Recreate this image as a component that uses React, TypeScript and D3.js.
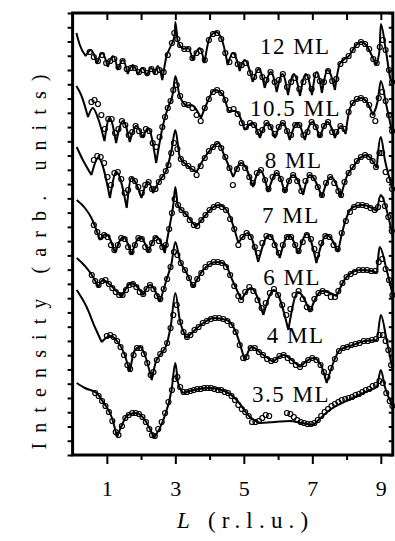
import React, {useEffect, useRef} from 'react';
import * as d3 from 'd3';

// Film thickness of each curve, top to bottom
const labels = ['12 ML', '10.5 ML', '8 ML', '7 ML', '6 ML', '4 ML', '3.5 ML'];
// left end of each label baseline, in [L, intensity]
const labelAt = [[5.47, 40.1], [5.18, 33.95], [5.61, 28.7], [5.53, 23.2], [5.57, 17.0], [5.67, 11.2], [5.24, 5.35]];

const xMajor = [1, 3, 5, 7, 9];
const xMinor = [2, 4, 6, 8];
const yTickCount = 31;

// fitted curves, [L, log intensity + offset]
const fit12 = [[0.11,42.2],[0.21,41.0],[0.38,39.9],[0.54,40.5],[0.71,39.1],[0.86,40.2],[1.03,38.8],[1.18,39.9],[1.32,38.5],[1.47,39.5],[1.61,38.1],[1.76,39.0],[1.91,38.0],[2.03,38.7],[2.17,37.9],[2.29,38.7],[2.39,38.1],[2.49,38.9],[2.62,37.5],[2.73,39.7],[2.88,41.0],[2.98,42.0],[3.0,43.3],[3.07,41.4],[3.22,40.6],[3.37,40.7],[3.51,39.5],[3.71,40.7],[3.85,39.2],[4.0,41.7],[4.19,42.3],[4.39,41.2],[4.53,39.0],[4.68,40.2],[4.88,38.4],[5.02,39.5],[5.26,37.3],[5.44,38.6],[5.61,36.7],[5.79,38.3],[5.96,36.3],[6.13,38.1],[6.29,36.0],[6.46,38.1],[6.64,35.9],[6.81,38.1],[6.99,36.0],[7.13,38.3],[7.28,36.2],[7.45,38.5],[7.66,36.5],[7.80,39.1],[8.09,40.0],[8.28,41.0],[8.43,41.3],[8.57,41.0],[8.77,39.7],[8.86,39.0],[8.96,40.4],[9.0,43.1],[9.15,40.4],[9.29,37.5],[9.35,37.2]];
const fit105 = [[0.11,36.9],[0.25,36.0],[0.45,33.8],[0.59,34.7],[0.75,33.6],[0.93,31.4],[1.08,33.7],[1.27,31.2],[1.47,33.4],[1.67,31.3],[1.86,32.9],[2.05,31.7],[2.20,32.7],[2.44,29.2],[2.64,33.0],[2.78,34.7],[2.93,36.2],[3.0,37.9],[3.12,36.0],[3.32,34.9],[3.46,35.0],[3.75,33.7],[3.90,35.0],[4.15,36.5],[4.39,36.0],[4.58,34.4],[4.75,34.4],[5.03,32.5],[5.24,33.2],[5.47,31.7],[5.69,33.2],[5.91,31.7],[6.13,33.2],[6.34,31.5],[6.56,33.2],[6.78,31.5],[7.0,33.3],[7.22,31.7],[7.44,33.3],[7.66,31.7],[7.84,32.9],[7.97,32.1],[8.10,34.7],[8.28,35.5],[8.43,35.7],[8.57,35.4],[8.77,34.0],[8.91,35.4],[9.0,37.4],[9.16,35.0],[9.35,32.0]];
const fit8 = [[0.12,30.8],[0.27,29.7],[0.55,28.0],[0.75,29.7],[1.09,25.7],[1.28,28.3],[1.58,24.7],[1.72,27.7],[2.01,25.7],[2.21,27.3],[2.35,26.2],[2.55,27.5],[2.74,28.5],[2.89,30.5],[3.0,32.5],[3.13,29.8],[3.33,29.0],[3.62,28.3],[3.81,29.5],[4.10,30.8],[4.27,31.2],[4.40,30.2],[4.69,27.8],[4.93,29.2],[5.27,26.8],[5.47,28.5],[5.71,26.3],[5.96,28.2],[6.20,26.2],[6.44,28.0],[6.73,26.0],[6.93,28.0],[7.28,25.8],[7.54,27.8],[7.83,25.8],[8.0,27.8],[8.19,28.8],[8.39,29.7],[8.58,30.0],[8.74,29.5],[8.88,28.7],[9.0,31.8],[9.12,29.5],[9.36,26.5]];
const fit7 = [[0.12,25.5],[0.36,24.7],[0.55,23.7],[0.80,21.5],[0.97,22.1],[1.24,20.2],[1.48,21.8],[1.72,20.0],[1.97,21.8],[2.21,20.3],[2.45,21.8],[2.69,20.2],[2.84,23.0],[2.94,25.0],[3.0,26.8],[3.07,25.0],[3.28,24.2],[3.60,22.8],[3.86,23.9],[4.07,24.7],[4.27,25.0],[4.53,24.3],[4.84,21.2],[5.12,22.2],[5.42,19.3],[5.73,22.0],[6.05,19.7],[6.31,22.0],[6.59,20.1],[6.84,22.1],[7.12,19.2],[7.42,22.0],[7.75,20.3],[7.89,22.5],[8.19,24.8],[8.49,25.0],[8.74,24.7],[8.89,24.4],[9.0,26.0],[9.17,24.5],[9.35,21.8]];
const fit6 = [[0.12,19.7],[0.36,18.9],[0.60,17.8],[0.75,16.8],[0.89,17.5],[1.10,17.0],[1.43,15.8],[1.72,17.2],[2.06,16.0],[2.26,17.0],[2.55,15.3],[2.74,17.5],[2.89,19.2],[3.0,21.3],[3.13,19.5],[3.33,18.2],[3.52,16.8],[3.81,18.5],[4.01,19.1],[4.20,19.3],[4.45,19.1],[4.65,17.6],[4.93,15.5],[5.21,16.7],[5.57,14.0],[5.88,16.5],[6.30,12.5],[6.58,16.3],[6.93,14.3],[7.28,16.4],[7.71,15.9],[8.0,17.8],[8.39,18.5],[8.74,18.4],[8.89,18.2],[8.97,20.8],[9.17,18.5],[9.36,15.8]];
const fit4 = [[0.12,16.5],[0.41,14.8],[0.65,12.8],[0.85,11.3],[1.09,11.9],[1.32,11.3],[1.50,10.2],[1.67,8.3],[1.82,10.5],[1.97,10.8],[2.11,10.0],[2.31,7.5],[2.43,9.3],[2.55,10.0],[2.74,11.0],[2.87,13.0],[3.0,16.2],[3.13,13.5],[3.33,11.7],[3.57,12.5],[3.86,13.3],[4.11,13.7],[4.50,13.5],[4.74,12.5],[5.03,9.4],[5.23,10.8],[5.53,10.1],[5.86,9.3],[6.15,10.0],[6.40,9.5],[6.64,8.8],[7.03,9.7],[7.25,9.0],[7.42,7.2],[7.61,9.2],[7.80,10.5],[8.19,11.0],[8.53,11.4],[8.88,11.5],[9.0,14.0],[9.17,11.5],[9.36,8.2]];
const fit35 = [[0.12,7.2],[0.36,6.7],[0.70,6.2],[0.89,5.3],[1.14,3.8],[1.30,1.8],[1.44,3.0],[1.61,4.0],[1.87,4.2],[2.11,3.5],[2.38,1.7],[2.65,3.5],[2.89,6.5],[3.0,9.2],[3.08,7.2],[3.23,6.2],[3.52,6.5],[4.01,6.7],[4.50,6.3],[4.79,5.5],[5.18,3.8],[5.47,3.2],[5.91,3.3],[6.34,3.4],[6.69,3.2],[7.03,3.0],[7.51,4.5],[8.19,5.7],[8.68,6.5],[8.88,6.8],[9.0,8.5],[9.12,6.8],[9.36,4.8]];

// measured points
const data12 = [[0.50,40.3],[0.62,39.8],[0.74,39.4],[0.86,40.0],[0.98,39.2],[1.10,39.4],[1.22,39.6],[1.34,38.8],[1.46,39.4],[1.58,38.6],[1.70,38.7],[1.82,38.7],[1.94,38.3],[2.06,38.5],[2.18,38.2],[2.30,38.6],[2.42,38.3],[2.54,38.5],[2.66,38.3],[2.78,40.0],[2.90,41.2],[2.97,42.2],[3.06,41.6],[3.14,41.0],[3.26,40.6],[3.38,40.6],[3.50,39.7],[3.62,40.2],[3.74,40.4],[3.86,39.5],[3.98,41.5],[4.10,42.1],[4.22,42.2],[4.34,41.6],[4.46,40.2],[4.58,39.3],[4.70,40.0],[4.82,39.1],[4.94,39.0],[5.06,39.2],[5.18,38.2],[5.30,37.8],[5.42,38.5],[5.54,37.8],[5.66,37.5],[5.78,38.3],[5.90,37.3],[6.02,37.5],[6.14,38.1],[6.26,36.8],[6.38,37.3],[6.50,37.7],[6.62,36.6],[6.74,37.3],[6.86,37.8],[6.98,36.6],[7.10,38.0],[7.22,37.4],[7.34,37.3],[7.46,38.4],[7.58,37.4],[7.70,37.6],[7.82,39.1],[7.94,39.5],[8.06,39.9],[8.18,40.5],[8.30,41.0],[8.42,41.3],[8.54,41.1],[8.66,40.6],[8.78,39.6],[8.88,39.2],[8.97,40.8],[9.06,41.5],[9.14,40.5],[9.24,38.5],[9.33,37.3]];
const data105 = [[0.55,35.3],[0.64,35.5],[0.74,35.1],[0.84,34.0],[0.94,32.6],[1.04,33.6],[1.14,33.6],[1.24,32.2],[1.34,32.6],[1.44,33.4],[1.54,33.0],[1.64,32.0],[1.74,32.3],[1.84,32.9],[1.94,32.4],[2.04,32.0],[2.14,32.6],[2.24,32.4],[2.34,31.2],[2.44,30.8],[2.54,31.8],[2.62,32.8],[2.70,33.8],[2.78,34.7],[2.86,35.4],[2.94,36.5],[3.04,37.0],[3.14,35.9],[3.26,35.1],[3.38,35.0],[3.50,34.7],[3.62,34.0],[3.74,33.4],[3.86,34.7],[3.98,35.6],[4.10,36.3],[4.22,36.5],[4.34,36.2],[4.46,35.5],[4.58,34.5],[4.70,34.6],[4.82,34.1],[4.94,33.2],[5.06,32.8],[5.18,33.2],[5.30,33.0],[5.42,32.3],[5.54,32.5],[5.66,33.2],[5.78,32.8],[5.90,32.1],[6.02,32.8],[6.14,33.2],[6.26,32.4],[6.38,32.0],[6.50,33.0],[6.62,33.0],[6.74,32.0],[6.86,32.3],[6.98,33.3],[7.10,32.8],[7.22,32.0],[7.34,32.9],[7.46,33.3],[7.58,32.3],[7.70,32.3],[7.82,32.9],[7.94,32.6],[8.06,34.3],[8.18,35.2],[8.30,35.6],[8.42,35.7],[8.54,35.5],[8.66,35.0],[8.76,34.0],[8.84,33.4],[8.94,35.7],[9.04,36.3],[9.14,35.4],[9.24,34.0],[9.33,32.4]];
const data8 = [[0.62,29.5],[0.72,29.9],[0.82,29.8],[0.92,29.2],[1.02,27.8],[1.12,27.0],[1.22,28.2],[1.32,28.3],[1.42,27.6],[1.52,26.2],[1.62,26.5],[1.72,27.6],[1.82,27.4],[1.92,26.8],[2.02,26.2],[2.12,27.0],[2.22,27.3],[2.32,26.6],[2.42,26.6],[2.52,27.3],[2.62,27.8],[2.72,28.4],[2.80,29.0],[2.88,30.2],[2.96,31.2],[3.06,30.6],[3.16,29.6],[3.26,29.2],[3.38,28.9],[3.50,28.6],[3.62,28.0],[3.74,28.9],[3.86,29.7],[3.98,30.4],[4.10,30.8],[4.22,31.1],[4.34,30.7],[4.46,29.8],[4.58,28.7],[4.68,27.0],[4.80,28.6],[4.92,29.2],[5.04,28.7],[5.16,27.8],[5.26,27.2],[5.38,28.2],[5.50,28.5],[5.62,27.5],[5.72,26.6],[5.84,27.8],[5.96,28.2],[6.08,27.6],[6.20,26.5],[6.32,27.4],[6.44,28.0],[6.56,27.4],[6.68,26.4],[6.80,27.4],[6.92,28.0],[7.04,27.7],[7.16,26.8],[7.28,26.0],[7.40,27.2],[7.52,27.8],[7.64,27.2],[7.76,26.4],[7.84,26.0],[7.94,27.3],[8.06,28.2],[8.18,28.8],[8.30,29.4],[8.42,29.8],[8.54,30.0],[8.66,29.8],[8.76,29.4],[8.86,28.8],[8.96,30.2],[9.04,30.2],[9.14,28.3],[9.24,27.5],[9.33,26.6]];
const data7 = [[0.62,23.0],[0.72,22.3],[0.82,21.8],[0.92,22.0],[1.02,21.8],[1.12,21.0],[1.22,20.5],[1.32,21.0],[1.42,21.7],[1.52,21.6],[1.62,20.8],[1.72,20.3],[1.82,21.0],[1.92,21.7],[2.02,21.6],[2.12,20.8],[2.22,20.5],[2.32,21.2],[2.42,21.7],[2.52,21.4],[2.62,20.8],[2.72,21.0],[2.82,22.6],[2.90,24.2],[2.98,25.6],[3.08,25.0],[3.18,24.5],[3.30,24.1],[3.42,23.5],[3.54,23.0],[3.64,22.9],[3.76,23.5],[3.88,24.0],[4.00,24.5],[4.12,24.8],[4.24,25.0],[4.36,24.8],[4.48,24.5],[4.60,23.6],[4.72,22.6],[4.84,21.0],[4.96,21.8],[5.08,22.2],[5.20,21.8],[5.32,20.8],[5.42,20.2],[5.54,21.2],[5.66,21.9],[5.78,21.8],[5.90,21.0],[6.02,20.2],[6.14,21.0],[6.26,21.8],[6.38,21.8],[6.50,21.0],[6.60,20.4],[6.72,21.3],[6.84,22.0],[6.96,21.6],[7.06,20.6],[7.14,20.0],[7.26,21.2],[7.38,21.9],[7.50,21.8],[7.62,21.0],[7.74,20.6],[7.86,22.2],[7.98,23.4],[8.10,24.3],[8.22,24.8],[8.34,25.0],[8.46,25.0],[8.58,24.9],[8.70,24.7],[8.82,24.5],[8.92,24.8],[9.02,25.6],[9.12,24.9],[9.22,23.8],[9.32,22.4]];
const data6 = [[0.56,18.0],[0.66,17.4],[0.76,17.0],[0.86,17.4],[0.96,17.5],[1.06,17.1],[1.16,16.7],[1.26,16.3],[1.36,16.0],[1.46,16.0],[1.56,16.5],[1.66,17.0],[1.76,17.1],[1.86,16.8],[1.96,16.3],[2.06,16.1],[2.16,16.6],[2.26,17.0],[2.36,16.6],[2.46,15.9],[2.56,15.6],[2.66,16.6],[2.76,17.6],[2.86,18.8],[2.96,20.3],[3.06,20.0],[3.16,19.2],[3.28,18.5],[3.40,17.7],[3.52,17.0],[3.64,17.6],[3.76,18.2],[3.88,18.8],[4.00,19.1],[4.12,19.3],[4.24,19.3],[4.36,19.2],[4.48,18.8],[4.60,18.0],[4.72,16.9],[4.84,15.9],[4.92,15.5],[5.04,16.3],[5.16,16.8],[5.28,16.4],[5.40,15.5],[5.52,14.7],[5.64,15.2],[5.76,16.2],[5.88,16.6],[6.00,16.0],[6.12,15.0],[6.24,14.0],[6.36,14.6],[6.48,16.0],[6.60,16.4],[6.72,15.6],[6.84,14.8],[6.94,14.6],[7.06,15.6],[7.18,16.2],[7.30,16.4],[7.42,16.2],[7.54,15.8],[7.66,15.8],[7.76,16.4],[7.88,17.2],[8.00,17.8],[8.12,18.1],[8.24,18.3],[8.36,18.5],[8.48,18.5],[8.60,18.5],[8.72,18.4],[8.84,18.4],[8.94,19.3],[9.04,19.6],[9.14,18.6],[9.24,17.5],[9.34,16.0]];
const data4 = [[1.00,11.9],[1.10,12.0],[1.20,11.8],[1.30,11.4],[1.40,10.8],[1.50,10.0],[1.60,9.0],[1.68,8.6],[1.78,10.0],[1.88,10.7],[1.98,10.7],[2.08,10.1],[2.18,9.2],[2.28,8.0],[2.36,8.3],[2.46,9.5],[2.56,10.1],[2.66,10.5],[2.76,11.2],[2.86,12.7],[2.94,14.0],[3.04,15.0],[3.14,13.3],[3.24,12.3],[3.34,11.8],[3.44,12.0],[3.56,12.5],[3.68,12.8],[3.80,13.2],[3.92,13.4],[4.04,13.6],[4.16,13.7],[4.28,13.7],[4.40,13.6],[4.52,13.4],[4.64,13.0],[4.76,12.3],[4.88,11.0],[4.98,9.7],[5.08,9.8],[5.20,10.7],[5.32,10.7],[5.44,10.3],[5.56,10.0],[5.68,9.6],[5.80,9.4],[5.92,9.5],[6.04,9.9],[6.16,10.0],[6.28,9.7],[6.40,9.4],[6.52,9.0],[6.64,8.8],[6.76,9.1],[6.88,9.5],[7.00,9.7],[7.12,9.5],[7.24,9.0],[7.34,8.3],[7.44,7.8],[7.54,8.7],[7.66,9.6],[7.78,10.4],[7.90,10.7],[8.02,10.8],[8.14,11.0],[8.26,11.1],[8.38,11.2],[8.50,11.4],[8.62,11.4],[8.74,11.5],[8.86,11.6],[8.96,12.0],[9.06,12.0],[9.14,11.4],[9.22,10.5],[9.30,9.0]];
const data35 = [[0.66,6.2],[0.76,5.9],[0.86,5.4],[0.96,4.9],[1.06,4.3],[1.16,3.4],[1.26,2.3],[1.34,2.0],[1.44,2.9],[1.54,3.7],[1.64,4.0],[1.74,4.2],[1.84,4.2],[1.94,4.1],[2.04,3.8],[2.14,3.3],[2.24,2.6],[2.32,2.0],[2.40,1.9],[2.50,2.6],[2.60,3.3],[2.70,4.2],[2.80,5.3],[2.90,6.5],[2.98,7.6],[3.06,7.8],[3.14,6.8],[3.24,6.3],[3.34,6.3],[3.44,6.4],[3.54,6.5],[3.64,6.6],[3.74,6.6],[3.84,6.7],[3.94,6.7],[4.04,6.7],[4.14,6.6],[4.24,6.5],[4.34,6.5],[4.44,6.3],[4.54,6.2],[4.64,5.9],[4.74,5.5],[4.84,5.0],[4.94,4.6],[5.04,4.3],[5.14,3.9],[5.24,3.3],[5.34,3.3],[5.44,3.4],[5.54,3.7],[5.64,4.0],[5.74,3.9],[6.26,4.2],[6.36,4.1],[6.46,3.8],[6.56,3.5],[6.66,3.3],[6.76,3.2],[6.86,3.1],[6.96,3.1],[7.06,3.2],[7.16,3.5],[7.26,3.9],[7.36,4.3],[7.46,4.6],[7.56,4.9],[7.66,5.1],[7.76,5.3],[7.86,5.5],[7.96,5.6],[8.06,5.7],[8.16,5.8],[8.26,6.0],[8.36,6.1],[8.46,6.3],[8.56,6.5],[8.66,6.6],[8.76,6.9],[8.86,7.0],[8.96,7.4],[9.06,7.2],[9.16,6.2],[9.26,5.4],[9.34,4.9]];

const fits = [fit12, fit105, fit8, fit7, fit6, fit4, fit35];
const measured = [data12, data105, data8, data7, data6, data4, data35];

const serif = '"Liberation Serif", "Times New Roman", Times, serif';

// split a fit at its local minima so each fringe ends in a sharp cusp
function splitAtMinima(pts: number[][]) {
  const pieces: number[][][] = [];
  let cur: number[][] = [pts[0]];
  for (let i = 1; i < pts.length; i++) {
    cur.push(pts[i]);
    const isMin = i < pts.length - 1 && pts[i][1] < pts[i - 1][1] && pts[i][1] < pts[i + 1][1];
    if (isMin) {
      pieces.push(cur);
      cur = [pts[i]];
    }
  }
  pieces.push(cur);
  return pieces;
}

export default function App() {
  const ref = useRef<SVGSVGElement>(null);

  useEffect(() => {
    const svg = d3.select(ref.current!);
    svg.selectAll('*').remove();

    const x = d3.scaleLinear([0, 9.35], [72.6, 392.8]);
    const y = d3.scaleLinear([0, 44.2], [455, 13]);

    const line = d3.line<number[]>()
      .x(d => x(d[0]))
      .y(d => y(d[1]))
      .curve(d3.curveMonotoneX);

    // fits
    fits.forEach(f => {
      svg.append('path')
        .attr('fill', 'none')
        .attr('stroke', '#000')
        .attr('stroke-width', 2)
        .attr('d', splitAtMinima(f).map(p => line(p)).join(''));
    });

    // data, open circles
    measured.forEach(m => {
      svg.append('g')
        .selectAll('circle')
        .data(m)
        .join('circle')
        .attr('cx', d => x(d[0]))
        .attr('cy', d => y(d[1]))
        .attr('r', 2.5)
        .attr('fill', 'none')
        .attr('stroke', '#000')
        .attr('stroke-width', 1.2);
    });

    // curve labels
    labels.forEach((t, i) => {
      svg.append('text')
        .attr('x', x(labelAt[i][0]))
        .attr('y', y(labelAt[i][1]))
        .attr('font-family', serif)
        .attr('font-size', 23)
        .attr('letter-spacing', 1.5)
        .text(t);
    });

    const yTicks = d3.range(yTickCount + 1).map(i => i * 44.2 / yTickCount);

    const style = (g: any) => {
      g.select('.domain').remove();
      g.selectAll('.tick line').attr('stroke-width', 2);
      g.selectAll('text').attr('font-family', serif).attr('font-size', 22).attr('fill', '#000');
    };

    // bottom, outward
    svg.append('g')
      .attr('transform', 'translate(0,455)')
      .call(d3.axisBottom(x).tickValues(xMajor).tickSize(9).tickPadding(16).tickFormat(d3.format('d')))
      .call(style);
    svg.append('g')
      .attr('transform', 'translate(0,455)')
      .call(d3.axisBottom(x).tickValues(xMinor).tickSize(5).tickFormat(() => ''))
      .call(style);

    // top, inward
    svg.append('g')
      .attr('transform', 'translate(0,13)')
      .call(d3.axisBottom(x).tickValues([...xMajor, ...xMinor]).tickSize(7).tickFormat(() => ''))
      .call(style);

    // left outward, right inward
    svg.append('g')
      .attr('transform', 'translate(72.6,0)')
      .call(d3.axisLeft(y).tickValues(yTicks).tickSize(5).tickFormat(() => ''))
      .call(style);
    svg.append('g')
      .attr('transform', 'translate(392.8,0)')
      .call(d3.axisLeft(y).tickValues(yTicks).tickSize(4).tickFormat(() => ''))
      .call(style);

    // frame
    svg.append('rect')
      .attr('x', 72.6)
      .attr('y', 13)
      .attr('width', 392.8 - 72.6)
      .attr('height', 455 - 13)
      .attr('fill', 'none')
      .attr('stroke', '#000')
      .attr('stroke-width', 3);

    // axis titles
    const xt = svg.append('text')
      .attr('x', 177)
      .attr('y', 528)
      .attr('font-family', serif)
      .attr('font-size', 23)
      .attr('letter-spacing', 6.2);
    xt.append('tspan').attr('font-style', 'italic').text('L');
    xt.append('tspan').text(' (r.l.u.)');

    svg.append('text')
      .attr('transform', 'translate(46,262) rotate(-90)')
      .attr('text-anchor', 'middle')
      .attr('font-family', serif)
      .attr('font-size', 20)
      .attr('textLength', 375)
      .attr('lengthAdjust', 'spacing')
      .text('Intensity (arb. units)');
  }, []);

  return <svg ref={ref} width={395} height={541}
              style={{position: 'absolute', left: 0, top: 0, background: '#fff'}}/>;
}
